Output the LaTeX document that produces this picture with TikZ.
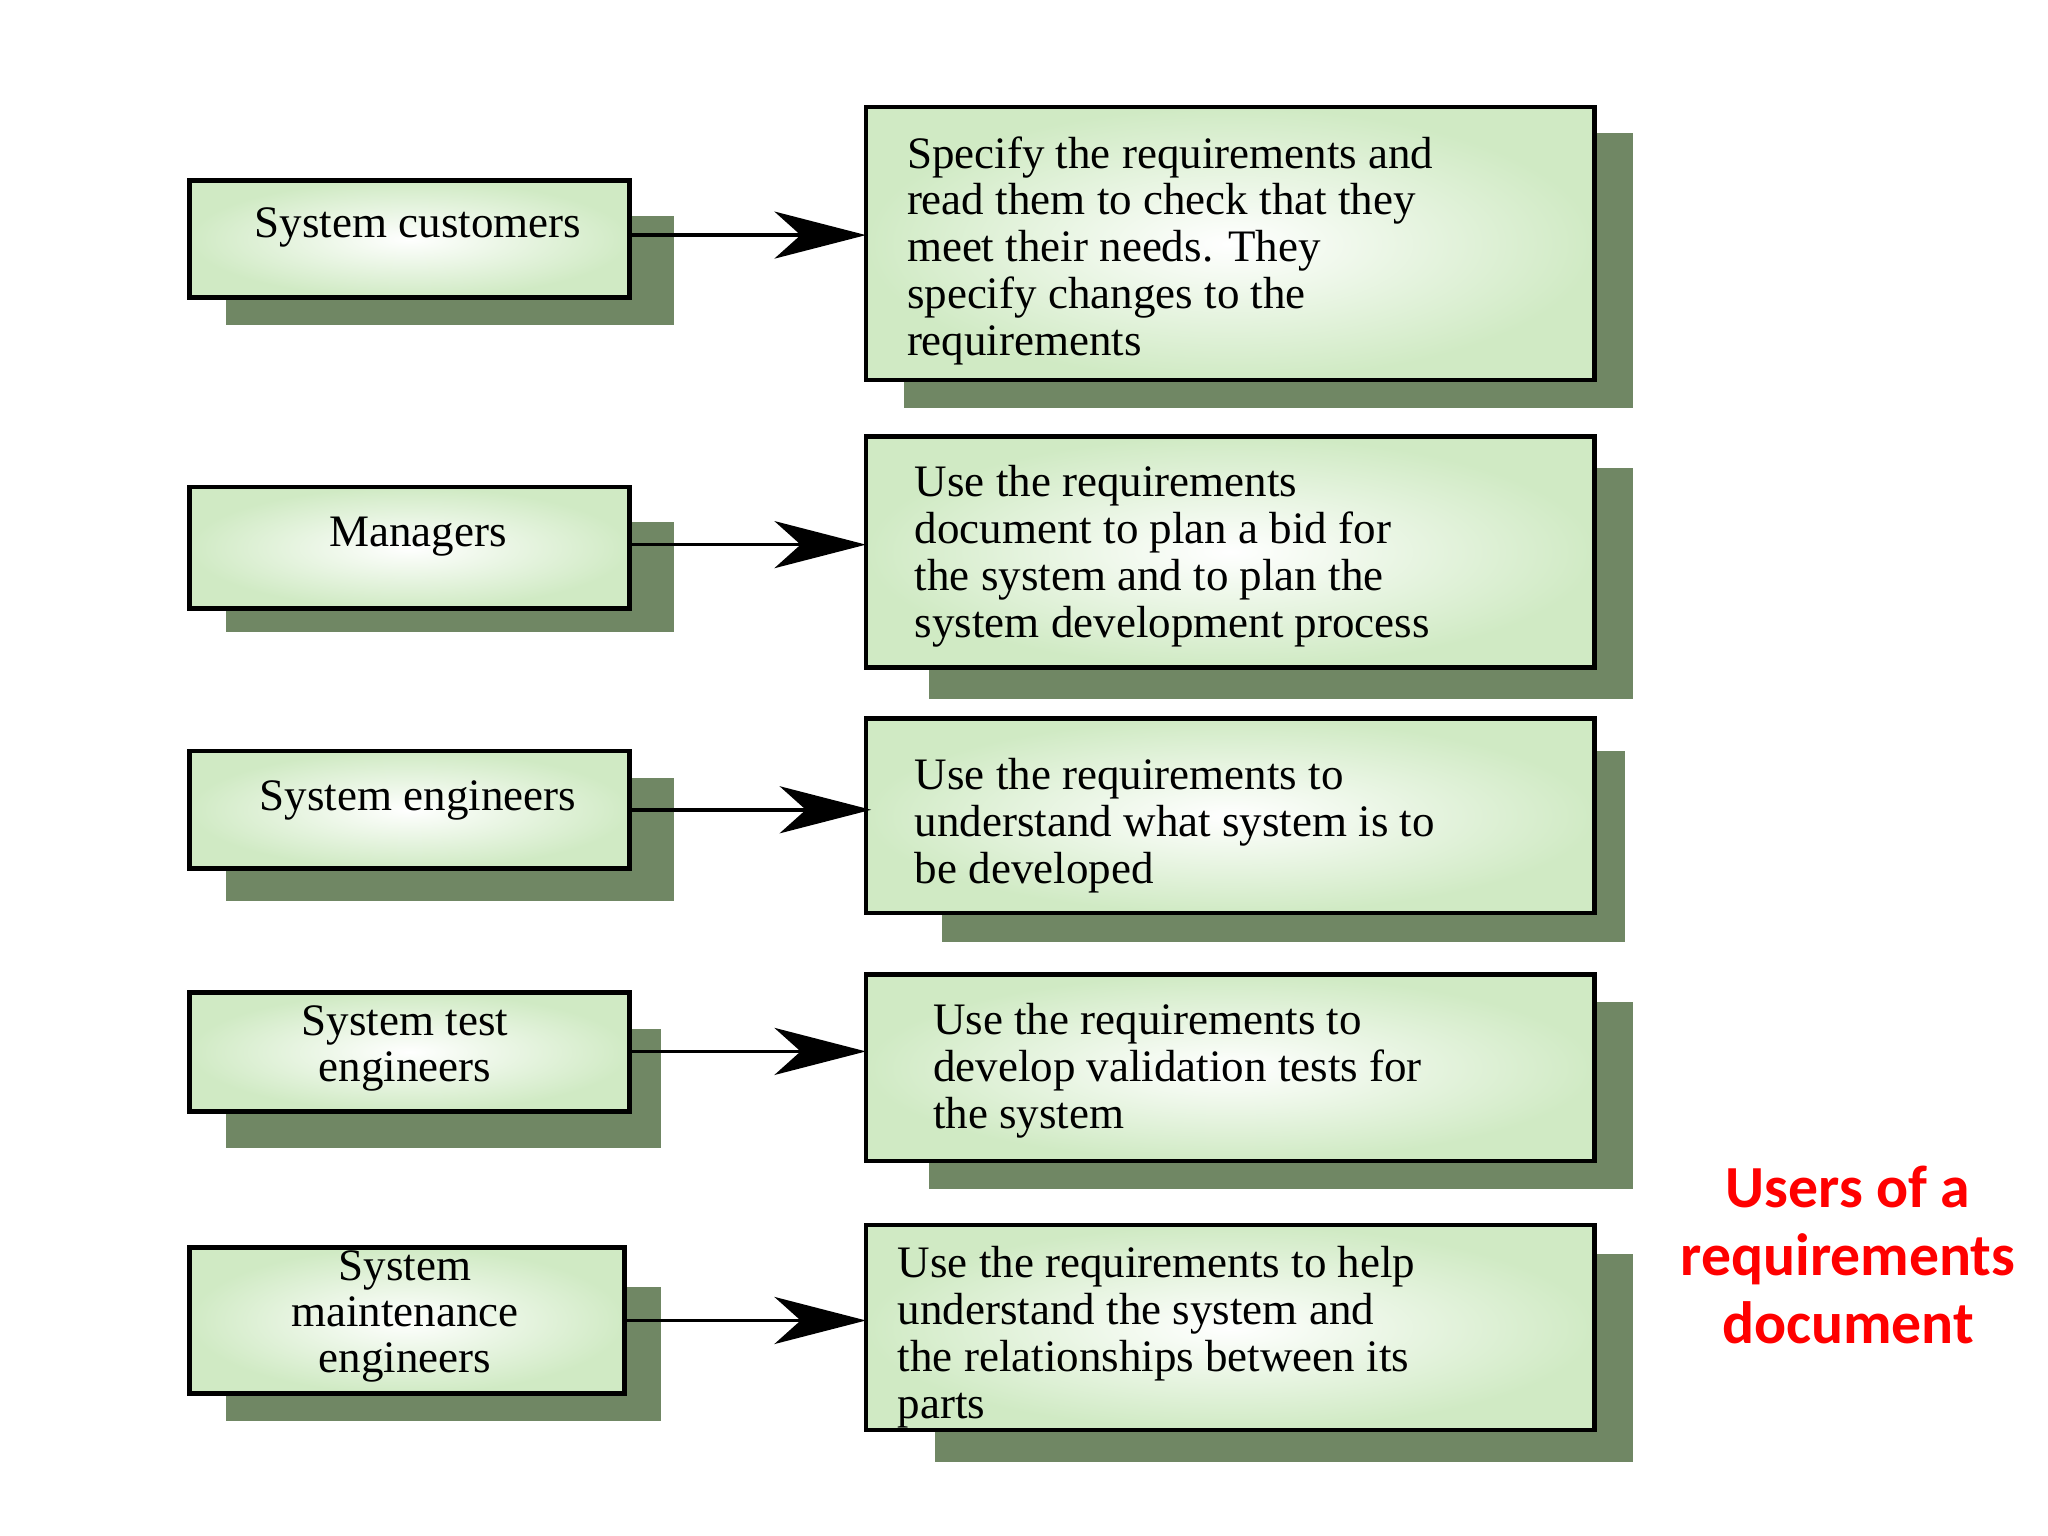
\documentclass[tikz,border=0pt]{standalone}
\usepackage{fontspec}
\setmainfont{Liberation Serif}
\newfontfamily\redf{Carlito}
\usetikzlibrary{arrows.meta}
\definecolor{shad}{RGB}{112,135,100}
\definecolor{boxg}{RGB}{208,234,196}
\tikzset{
 sh/.style={fill=shad,draw=none},
 bx/.style={draw=black,line width=1pt,inner color=white,outer color=boxg},
 lt/.style={font=\fontsize{9.8}{10}\selectfont,align=center},
 rt/.style={font=\fontsize{9.8}{10.2}\selectfont,align=left,anchor=north west},
 ar/.style={line width=0.8pt,-{Stealth[length=0.7cm,width=0.36cm,inset=0.2cm]}}
}
\begin{document}
\begin{tikzpicture}[x=0.01cm,y=-0.01cm]
\useasboundingbox (0,0) rectangle (1568,1176);
% shadows
\fill[sh] (173,165) rectangle (516,249);
\fill[sh] (173,400) rectangle (516,484);
\fill[sh] (173,596) rectangle (516,690);
\fill[sh] (173,788) rectangle (506,879);
\fill[sh] (173,985) rectangle (506,1088);
\fill[sh] (692,102) rectangle (1250,312);
\fill[sh] (711,358) rectangle (1250,535);
\fill[sh] (721,575) rectangle (1244,721);
\fill[sh] (711,767) rectangle (1250,910);
\fill[sh] (716,960) rectangle (1250,1119);
% left boxes
\path[bx] (145,138) rectangle (482,228);
\path[bx] (145,373) rectangle (482,466);
\path[bx] (145,575) rectangle (482,665);
\path[bx] (145,760) rectangle (482,851);
\path[bx] (145,955) rectangle (478,1067);
% left labels
\node[lt] (l1) at (320,174) {System customers};
\node[lt] (l2) at (320,411) {Managers};
\node[lt] (l3) at (320,613) {System engineers};
\node[lt] (l4) at (310,803) {System test\\engineers};
\node[lt] (l5) at (310,1008) {System\\maintenance\\engineers};
% right boxes
\path[bx] (663,82) rectangle (1221,291);
\path[bx] (663,334) rectangle (1221,511);
\path[bx] (663,550) rectangle (1221,699);
\path[bx] (663,746) rectangle (1221,889);
\path[bx] (663,938) rectangle (1221,1095);
% right labels
\node[rt] (r1) at (682,92) {Specify the requirements and\\read them to check that they\\meet their needs. They\\specify changes to the\\requirements};
\node[rt] (r2) at (688,344) {Use the requirements\\document to plan a bid for\\the system and to plan the\\system development process};
\node[rt] (r3) at (688,568) {Use the requirements to\\understand what system is to\\be developed};
\node[rt] (r4) at (702,756) {Use the requirements to\\develop validation tests for\\the system};
\node[rt] (r5) at (675,942) {Use the requirements to help\\understand the system and\\the relationships between its\\parts};
% arrow ends
\coordinate (a1s) at (482,180); \coordinate (a1e) at (663,180);
\coordinate (a2s) at (482,417); \coordinate (a2e) at (663,417);
\coordinate (a3s) at (482,620); \coordinate (a3e) at (667,620);
\coordinate (a4s) at (482,805); \coordinate (a4e) at (663,805);
\coordinate (a5s) at (478,1011); \coordinate (a5e) at (663,1011);
\draw[ar] (a1s) -- (a1e);
\draw[ar] (a2s) -- (a2e);
\draw[ar] (a3s) -- (a3e);
\draw[ar] (a4s) -- (a4e);
\draw[ar] (a5s) -- (a5e);
\node[font=\redf\bfseries\fontsize{13}{14.8}\selectfont,text=red,align=center] (t) at (1415,961) {Users of a\\requirements\\document};
\end{tikzpicture}
\end{document}
